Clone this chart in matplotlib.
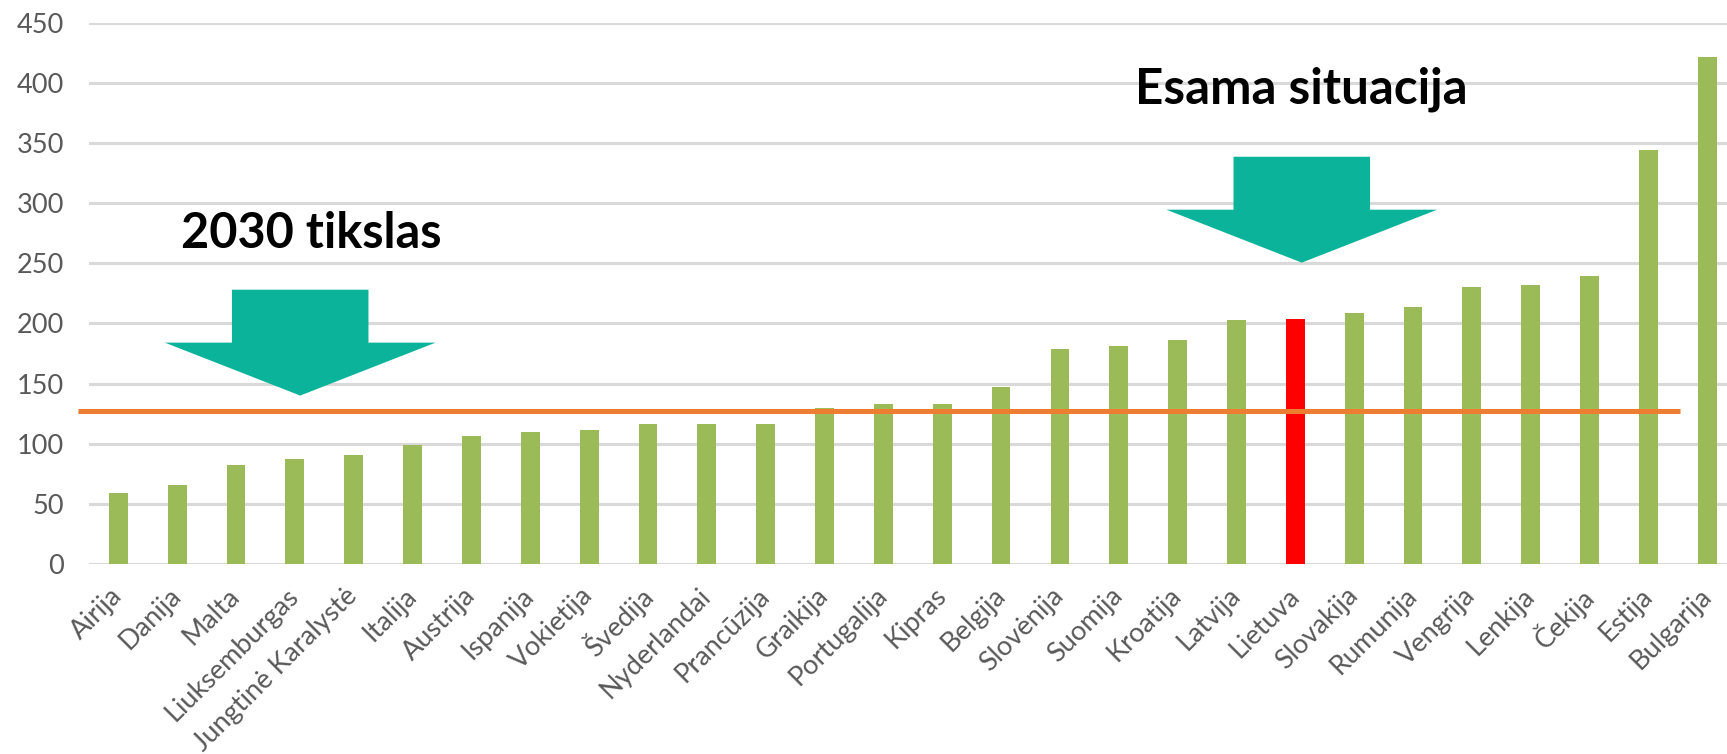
import matplotlib
matplotlib.use("Agg")
import matplotlib.pyplot as plt
from matplotlib.patches import Polygon

# duomenys
salys = ["Airija", "Danija", "Malta", "Liuksemburgas", "Jungtinė Karalystė",
         "Italija", "Austrija", "Ispanija", "Vokietija", "Švedija",
         "Nyderlandai", "Prancūzija", "Graikija", "Portugalija", "Kipras",
         "Belgija", "Slovėnija", "Suomija", "Kroatija", "Latvija", "Lietuva",
         "Slovakija", "Rumunija", "Vengrija", "Lenkija", "Čekija", "Estija",
         "Bulgarija"]
reiksmes = [59, 65.5, 82, 87, 91, 98.5, 106, 110, 111, 116, 116, 116, 130,
            133, 133, 147, 178.5, 181, 186, 202.5, 203.5, 209, 214, 230.5,
            232, 239.5, 344.5, 421.5]
tikslas = 127
y_ticks = [0, 50, 100, 150, 200, 250, 300, 350, 400, 450]
paryskinta = "Lietuva"

GREEN = "#9BBB59"
RED = "#FF0000"
ORANGE = "#ED7D31"
TEAL = "#0BB39A"
GRID = "#D9D9D9"
LABEL = "#595959"

plt.rcParams['font.family'] = ['Lato', 'DejaVu Sans']

fig = plt.figure(figsize=(17.27, 7.54), dpi=100)
ax = fig.add_axes([0.0515, 0.252, 0.9541, 0.718])

x = list(range(len(salys)))
spalvos = [RED if s == paryskinta else GREEN for s in salys]
ax.bar(x, reiksmes, width=0.32, color=spalvos, zorder=3)

# tikslo linija
ax.plot([-0.68, 26.54], [tikslas, tikslas], color=ORANGE, lw=3.6,
        zorder=4, clip_on=False, solid_capstyle="butt")

ax.set_xlim(-0.5, len(salys) - 0.5)
ax.set_ylim(0, 450)
ax.set_yticks(y_ticks)
ax.set_xticks(x)
ax.set_xticklabels(salys, rotation=45, ha="right", va="center",
                   rotation_mode="anchor")
ax.tick_params(axis="y", length=0, pad=18, labelsize=19.5, labelcolor=LABEL)
ax.tick_params(axis="x", length=0, pad=20, labelsize=19.5, labelcolor=LABEL)
ax.grid(axis="y", color=GRID, lw=2.2, zorder=0)
for sp in ax.spines.values():
    sp.set_visible(False)


def rodykle(cx, tip):
    # rodykle zemyn: kotas ir galva
    pts = [(cx - 1.16, tip + 88), (cx + 1.16, tip + 88), (cx + 1.16, tip + 44),
           (cx + 2.3, tip + 44), (cx, tip), (cx - 2.3, tip + 44),
           (cx - 1.16, tip + 44)]
    ax.add_patch(Polygon(pts, closed=True, color=TEAL, lw=0, zorder=5))


rodykle(3.09, 140)
rodykle(20.11, 250.5)

ax.text(3.28, 262.7, "2030 tikslas", ha="center", va="baseline",
        fontsize=35, fontweight="bold", color="black", zorder=6)
ax.text(20.11, 382.4, "Esama situacija", ha="center", va="baseline",
        fontsize=35.5, fontweight="bold", color="black", zorder=6)

fig.savefig("out.png", dpi=100)
